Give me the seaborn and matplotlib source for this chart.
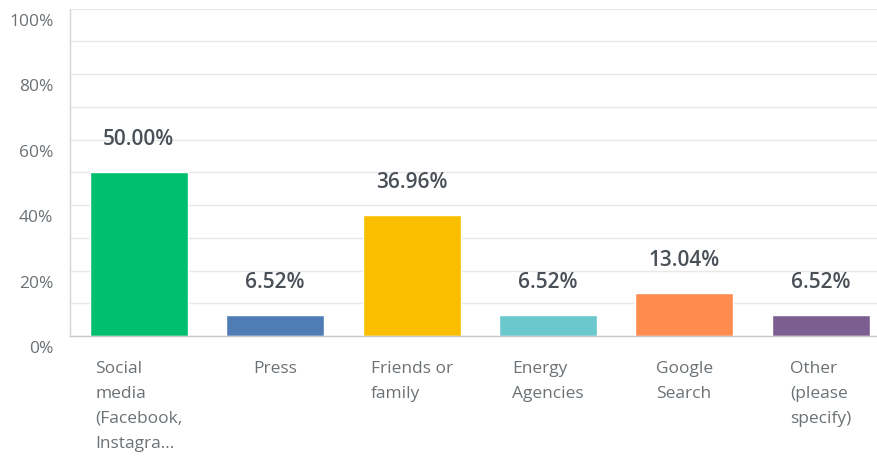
import matplotlib
matplotlib.use("Agg")
import matplotlib.pyplot as plt
import matplotlib.transforms as mtransforms
import seaborn as sns
import pandas as pd

categories = ["Social\nmedia\n(Facebook,\nInstagra...", "Press", "Friends or\nfamily",
              "Energy\nAgencies", "Google\nSearch", "Other\n(please\nspecify)"]
values = [50.00, 6.52, 36.96, 6.52, 13.04, 6.52]
colors = ["#00BF6F", "#507CB6", "#F9BE00", "#6BC8CD", "#FF8B4F", "#7D5E90"]
yticks = [0, 20, 40, 60, 80, 100]
ytick_labels = ["0%", "20%", "40%", "60%", "80%", "100%"]

sns.set_theme(style="white")
plt.rcParams['font.family'] = ['Open Sans', 'DejaVu Sans']

df = pd.DataFrame({"cat": categories, "val": values})

fig = plt.figure(figsize=(8.78, 4.6), dpi=100)
ax = fig.add_axes([70/878, 1-337/460, 1-70/878, (337-9.7)/460])

sns.barplot(data=df, x="cat", y="val", hue="cat", palette=colors, width=0.72,
            legend=False, ax=ax, saturation=1)

ax.set_ylim(0, 100)
ax.set_xlim(-0.505, 5.42)
ax.set_yticks(yticks)
ax.set_yticks(range(10, 100, 20), minor=True)
ax.set_yticklabels(ytick_labels)
ax.grid(axis="y", which="both", color="#e8e8e8", linewidth=1)
ax.set_axisbelow(True)
ax.tick_params(axis="y", length=0, pad=12, labelsize=12.5, labelcolor="#6b7175")
ax.tick_params(axis="y", which="minor", length=0)
ax.tick_params(axis="x", length=0, pad=17, labelsize=12.5, labelcolor="#6b7175")
ax.set_xlabel("")
ax.set_ylabel("")

for lbl in ax.get_yticklabels():
    lbl.set_transform(lbl.get_transform() + mtransforms.ScaledTranslation(0, -10/100, fig.dpi_scale_trans))
for lbl in ax.get_xticklabels():
    lbl.set_multialignment("left")
    lbl.set_linespacing(1.75)
    lbl.set_verticalalignment("top")

for s in ["top", "right"]:
    ax.spines[s].set_visible(False)
ax.spines["left"].set_color("#d5d5d5")
ax.spines["bottom"].set_color("#c8c8c8")
ax.spines["left"].set_linewidth(1)
ax.spines["bottom"].set_linewidth(1)

for i, v in enumerate(values):
    ax.annotate(f"{v:.2f}%", (i, v), xytext=(0, 23), textcoords="offset pixels",
                ha="center", va="bottom", fontsize=15, color="#4a5058", fontweight="semibold")

fig.savefig("out.png", dpi=100)
